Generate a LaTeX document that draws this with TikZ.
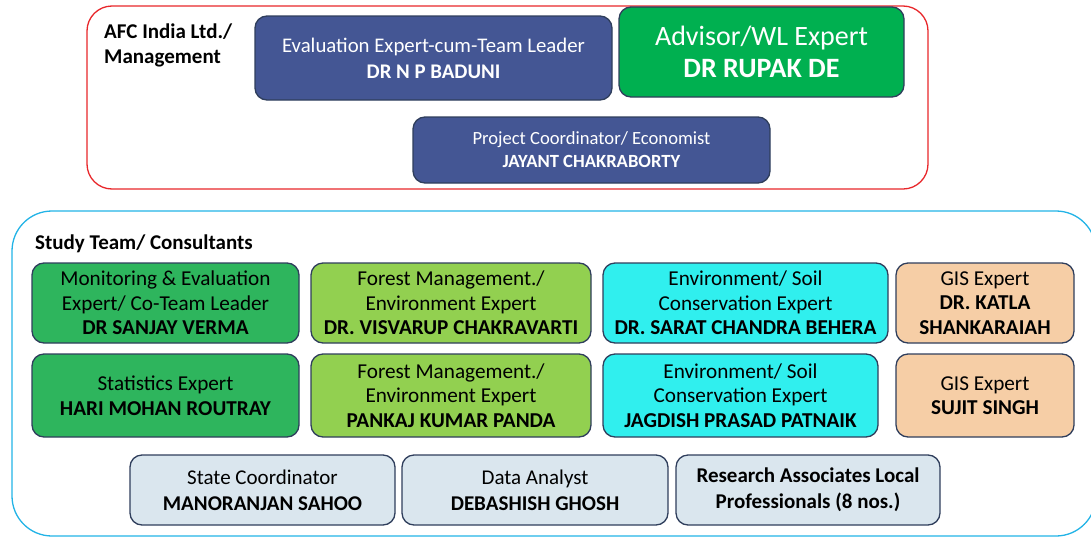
\documentclass[tikz,border=0pt]{standalone}
\usepackage{fontspec}
\setmainfont{Carlito}
\definecolor{navy}{HTML}{445694}
\definecolor{advgreen}{HTML}{00B050}
\definecolor{mgreen}{HTML}{2EB55D}
\definecolor{lgreen}{HTML}{92D050}
\definecolor{cyanbox}{HTML}{30EFEE}
\definecolor{peach}{HTML}{F6CEA6}
\definecolor{lblue}{HTML}{DAE6EE}
\definecolor{edge}{HTML}{2F3E5C}
\definecolor{redframe}{HTML}{E8262A}
\definecolor{cyanframe}{HTML}{22B3E6}
\tikzset{
  box/.style={draw=edge, line width=1.3pt, rounded corners=12pt, align=center, inner sep=1pt},
  topbox/.style={box, fill=navy, text=white},
  teambox/.style={box, text=black, font=\fontsize{21.2}{24.5}\selectfont},
  lowbox/.style={box, fill=lblue, text=black, font=\fontsize{21}{26}\selectfont},
  frame/.style={line width=1.3pt, rounded corners=#1},
}
\begin{document}
\begin{tikzpicture}[x=1pt,y=-1pt]
\useasboundingbox (0,0) rectangle (1091,538);
% frames
\draw[frame=25pt, draw=redframe] (87,6) rectangle (928,189);
\draw[frame=40pt, draw=cyanframe] (12,211) rectangle (1096,536);
% labels
\node[anchor=north west, align=left, font=\bfseries\fontsize{21}{25}\selectfont, inner sep=0pt] (afc) at (104,24) {AFC India Ltd./\\Management};
\node[anchor=north west, font=\bfseries\fontsize{21}{24}\selectfont, inner sep=0pt] (study) at (35,235) {Study Team/ Consultants};
% top boxes
\node[topbox, minimum width=357pt, minimum height=84pt, font=\fontsize{20.8}{26}\selectfont] (eval) at (433.5,58) {Evaluation Expert-cum-Team Leader\\\textbf{DR N P BADUNI}};
\node[box, fill=advgreen, text=white, minimum width=285pt, minimum height=90pt, font=\fontsize{28}{32}\selectfont] (adv) at (761.5,52) {Advisor/WL Expert\\\textbf{DR RUPAK DE}};
\node[topbox, minimum width=357pt, minimum height=66pt, font=\fontsize{18.6}{23}\selectfont] (pc) at (591.5,150) {Project Coordinator/ Economist\\\textbf{JAYANT CHAKRABORTY}};
% row 1
\node[teambox, fill=mgreen, minimum width=267pt, minimum height=80pt] (r1a) at (165.5,303) {Monitoring \& Evaluation\\Expert/ Co-Team Leader\\\textbf{DR SANJAY VERMA}};
\node[teambox, fill=lgreen, minimum width=280pt, minimum height=80pt] (r1b) at (451,303) {Forest Management./\\Environment Expert\\\textbf{DR. VISVARUP CHAKRAVARTI}};
\node[teambox, fill=cyanbox, minimum width=285pt, minimum height=80pt] (r1c) at (745.5,303) {Environment/ Soil\\Conservation Expert\\\textbf{DR. SARAT CHANDRA BEHERA}};
\node[teambox, fill=peach, minimum width=178pt, minimum height=80pt] (r1d) at (985,303) {GIS Expert\\\textbf{DR. KATLA}\\\textbf{SHANKARAIAH}};
% row 2
\node[teambox, fill=mgreen, minimum width=267pt, minimum height=83pt] (r2a) at (165.5,395.5) {Statistics Expert\\\textbf{HARI MOHAN ROUTRAY}};
\node[teambox, fill=lgreen, minimum width=280pt, minimum height=83pt] (r2b) at (451,395.5) {Forest Management./\\Environment Expert\\\textbf{PANKAJ KUMAR PANDA}};
\node[teambox, fill=cyanbox, minimum width=275pt, minimum height=83pt] (r2c) at (740.5,395.5) {Environment/ Soil\\Conservation Expert\\\textbf{JAGDISH PRASAD PATNAIK}};
\node[teambox, fill=peach, minimum width=178pt, minimum height=83pt] (r2d) at (985,395.5) {GIS Expert\\\textbf{SUJIT SINGH}};
% row 3
\node[lowbox, minimum width=265pt, minimum height=70pt] (r3a) at (262.5,490) {State Coordinator\\\textbf{MANORANJAN SAHOO}};
\node[lowbox, minimum width=266pt, minimum height=70pt] (r3b) at (535,490) {Data Analyst\\\textbf{DEBASHISH GHOSH}};
\node[lowbox, minimum width=264pt, minimum height=70pt] (r3c) at (808,490) {\textbf{Research Associates Local}\\\textbf{Professionals (8 nos.)}};
\end{tikzpicture}
\end{document}
